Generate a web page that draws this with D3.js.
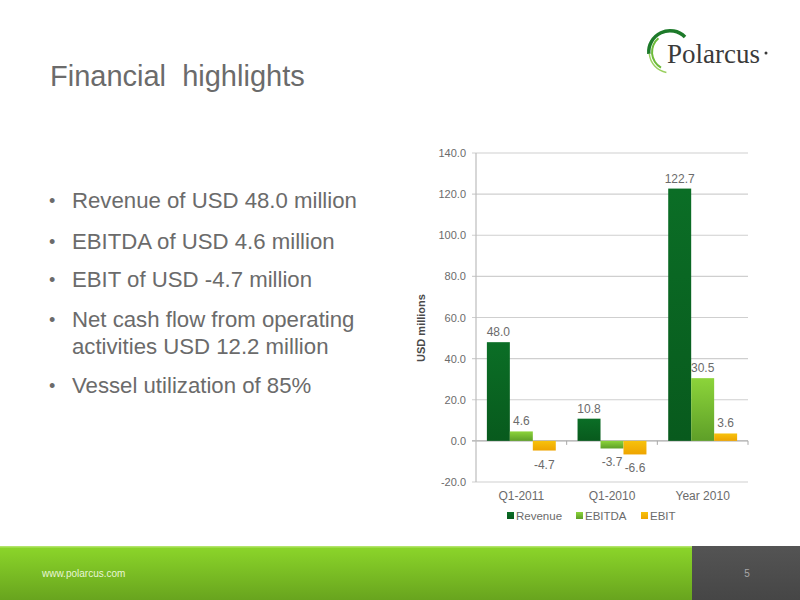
<!DOCTYPE html>
<html>
<head>
<meta charset="utf-8">
<script src="https://cdn.jsdelivr.net/npm/d3@7"></script>
<style>
  html, body { margin: 0; padding: 0; background: #fff; }
  svg { display: block; font-family: "Liberation Sans", Arial, sans-serif; }
</style>
</head>
<body>
<svg id="chart" width="800" height="600"></svg>
<script>
// ---- Data ----
const categories = ["Q1-2011", "Q1-2010", "Year 2010"];
const seriesNames = ["Revenue", "EBITDA", "EBIT"];
const revenue = [48.0, 10.8, 122.7];
const ebitda = [4.6, -3.7, 30.5];
const ebit = [-4.7, -6.6, 3.6];
const yTicks = [-20, 0, 20, 40, 60, 80, 100, 120, 140];
const bullets = [
  ["Revenue of USD 48.0 million"],
  ["EBITDA of USD 4.6 million"],
  ["EBIT of USD -4.7 million"],
  ["Net cash flow from operating", "activities USD 12.2 million"],
  ["Vessel utilization of 85%"]
];
const titleText = "Financial  highlights";
const yTitle = "USD millions";
const footerText = "www.polarcus.com";
const pageNumber = "5";

const seriesValues = [revenue, ebitda, ebit];
const colors = {
  Revenue: ["#0b6e26", "#085a1d"],
  EBITDA: ["#8cd43a", "#5e9f28"],
  EBIT: ["#f7c20c", "#eea400"]
};
const fmt = v => v.toFixed(1);

const svg = d3.select("#chart");
const defs = svg.append("defs");
seriesNames.forEach((s, i) => {
  const g = defs.append("linearGradient").attr("id", "grad" + i)
    .attr("x1", 0).attr("y1", 0).attr("x2", 0).attr("y2", 1);
  g.append("stop").attr("offset", "0%").attr("stop-color", colors[s][0]);
  g.append("stop").attr("offset", "100%").attr("stop-color", colors[s][1]);
});

// ---- Title ----
svg.append("text").attr("x", 50).attr("y", 86)
  .attr("font-size", 29).attr("fill", "#6b6b6b").style("white-space", "pre")
  .text(titleText);

// ---- Bullets ----
const bulletY = [208, 249, 287, 327, 393];
bullets.forEach((lines, i) => {
  svg.append("text").attr("x", 49).attr("y", bulletY[i] - 1)
    .attr("font-size", 18).attr("fill", "#6b6b6b").text("•");
  lines.forEach((ln, j) => {
    svg.append("text").attr("x", 72).attr("y", bulletY[i] + j * 27)
      .attr("font-size", 22.2).attr("fill", "#6b6b6b").text(ln);
  });
});

// ---- Chart ----
const x0 = d3.scaleBand().domain(categories).range([476, 748]).padding(0);
const bw = x0.bandwidth();
const x1 = d3.scaleBand().domain(seriesNames).range([bw * 0.12, bw * 0.88]).padding(0);
const y = d3.scaleLinear().domain([-20, 140]).range([482, 153]);

// gridlines
svg.append("g").selectAll("line").data(yTicks).join("line")
  .attr("x1", 472).attr("x2", 748)
  .attr("y1", d => y(d)).attr("y2", d => y(d))
  .attr("stroke", d => d === 0 ? "#a8a8a8" : "#cfcfcf").attr("stroke-width", 1.2);

// y axis line
svg.append("line").attr("x1", 476).attr("x2", 476).attr("y1", y(140)).attr("y2", y(-20))
  .attr("stroke", "#bdbdbd").attr("stroke-width", 1.2);

// y tick labels
const yAxis = d3.axisLeft(y).tickValues(yTicks).tickFormat(fmt).tickSize(0).tickPadding(10);
const ga = svg.append("g").attr("transform", "translate(476,0)").call(yAxis);
ga.select(".domain").remove();
ga.selectAll("text").attr("font-size", 11).attr("fill", "#6b6b6b")
  .attr("font-family", "Liberation Sans, Arial, sans-serif");

// category tick marks on zero line
svg.append("g").selectAll("line").data(categories).join("line")
  .attr("x1", d => x0(d) + bw).attr("x2", d => x0(d) + bw)
  .attr("y1", y(0)).attr("y2", y(0) + 4)
  .attr("stroke", "#a8a8a8").attr("stroke-width", 1);

// x labels
const xAxis = d3.axisBottom(x0).tickSize(0).tickPadding(0);
const gx = svg.append("g").attr("transform", "translate(0,500)").call(xAxis);
gx.select(".domain").remove();
gx.selectAll("text").attr("font-size", 12).attr("fill", "#6b6b6b").attr("dy", 0)
  .attr("font-family", "Liberation Sans, Arial, sans-serif");

// bars
const flat = [];
categories.forEach((c, ci) => seriesNames.forEach((s, si) => flat.push({ c, s, si, v: seriesValues[si][ci] })));
svg.append("g").selectAll("rect").data(flat).join("rect")
  .attr("x", d => x0(d.c) + x1(d.s))
  .attr("width", x1.bandwidth())
  .attr("y", d => Math.min(y(d.v), y(0)))
  .attr("height", d => Math.abs(y(d.v) - y(0)))
  .attr("fill", d => "url(#grad" + d.si + ")");

// data labels
svg.append("g").selectAll("text").data(flat).join("text")
  .attr("x", d => x0(d.c) + x1(d.s) + x1.bandwidth() / 2)
  .attr("y", d => d.v >= 0 ? y(d.v) - 6 : y(d.v) + 18)
  .attr("text-anchor", "middle").attr("font-size", 12).attr("fill", "#6b6b6b")
  .text(d => fmt(d.v));

// y title
svg.append("text").attr("transform", "translate(425,328) rotate(-90)")
  .attr("text-anchor", "middle").attr("font-size", 11).attr("font-weight", "bold")
  .attr("fill", "#4a4a4a").text(yTitle);

// legend
const legX = [507, 576, 641];
const leg = svg.append("g").selectAll("g").data(seriesNames).join("g")
  .attr("transform", (d, i) => `translate(${legX[i]},516)`);
leg.append("rect").attr("x", 0).attr("y", -4).attr("width", 7).attr("height", 7)
  .attr("fill", (d, i) => "url(#grad" + i + ")");
leg.append("text").attr("x", 9).attr("y", 4).attr("font-size", 11.5).attr("fill", "#6b6b6b").text(d => d);

// ---- Logo ----
const logo = svg.append("g");
const arc = d3.arc();
const arcs = [
  { r0: 19.5, r1: 23, a0: -95, a1: 45, c: "#1d7a2a" },
  { r0: 17, r1: 19, a0: -150, a1: -40, c: "#6dbb3a" },
  { r0: 20, r1: 21.5, a0: -170, a1: -95, c: "#9ad060" }
];
arcs.forEach(a => {
  logo.append("path").attr("transform", "translate(670,52)")
    .attr("d", arc({ innerRadius: a.r0, outerRadius: a.r1, startAngle: a.a0 * Math.PI / 180, endAngle: a.a1 * Math.PI / 180 }))
    .attr("fill", a.c);
});
logo.append("text").attr("x", 667).attr("y", 63).attr("font-size", 27)
  .attr("font-family", "Liberation Serif, 'DejaVu Serif', serif").attr("fill", "#3a3a3a").text("Polarcus");
logo.append("circle").attr("cx", 766).attr("cy", 53).attr("r", 1.5).attr("fill", "#3a3a3a");

// ---- Footer ----
const fg = defs.append("linearGradient").attr("id", "footG").attr("x1", 0).attr("y1", 0).attr("x2", 0).attr("y2", 1);
fg.append("stop").attr("offset", "0%").attr("stop-color", "#8cd62a");
fg.append("stop").attr("offset", "100%").attr("stop-color", "#68a41e");
const gg = defs.append("linearGradient").attr("id", "grayG").attr("x1", 0).attr("y1", 0).attr("x2", 0).attr("y2", 1);
gg.append("stop").attr("offset", "0%").attr("stop-color", "#545454");
gg.append("stop").attr("offset", "100%").attr("stop-color", "#464646");
svg.append("rect").attr("x", 0).attr("y", 546).attr("width", 800).attr("height", 54).attr("fill", "url(#footG)");
svg.append("rect").attr("x", 0).attr("y", 546).attr("width", 800).attr("height", 1.5).attr("fill", "#b2e46a");
svg.append("rect").attr("x", 692).attr("y", 546).attr("width", 108).attr("height", 54).attr("fill", "url(#grayG)");
svg.append("text").attr("x", 42).attr("y", 577).attr("font-size", 10).attr("fill", "#e9f6d6").text(footerText);
svg.append("text").attr("x", 747).attr("y", 577).attr("text-anchor", "middle").attr("font-size", 10).attr("fill", "#a8a8a8").text(pageNumber);
</script>
</body>
</html>
